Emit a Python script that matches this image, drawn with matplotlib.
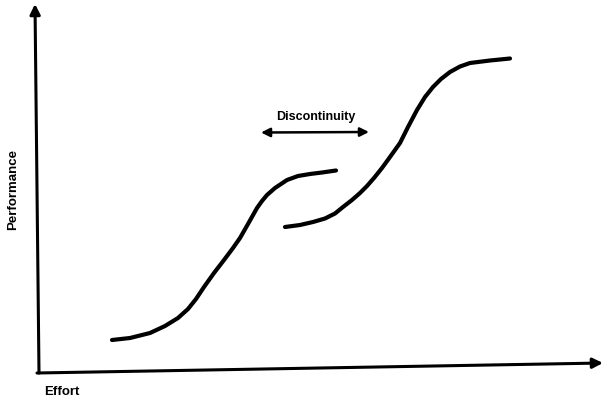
import matplotlib.pyplot as plt

# curve points (pixel space, y down)
curve1_x = [112, 130, 150, 165, 178, 188, 196, 204, 214, 224, 233, 240, 248, 257,
            262, 267, 275, 287, 298, 310, 322, 336]
curve1_y = [340, 338, 333, 326, 318, 309, 299, 287, 273, 260, 248, 238, 224, 208,
            201, 195, 188, 180, 176, 174, 172.5, 170.5]

curve2_x = [285, 300, 313, 325, 335, 343, 352, 360, 367, 374, 382, 390, 400, 408,
            417, 425, 433, 441, 450, 460, 470, 490, 510]
curve2_y = [227, 225, 222, 218.5, 213.5, 207, 200, 193, 186, 178, 168, 157, 143, 127,
            110, 97, 87, 79, 72, 66.5, 63, 60.5, 58.5]

x_label = 'Effort'
y_label = 'Performance'
gap_label = 'Discontinuity'

plt.rcParams['font.family'] = ['Liberation Sans', 'DejaVu Sans']

fig = plt.figure(figsize=(6.04, 4), dpi=100)
ax = fig.add_axes([0, 0, 1, 1])
ax.set_xlim(0, 604)
ax.set_ylim(400, 0)
ax.axis('off')

# axes with arrow heads
axis_arrow = dict(arrowstyle='-|>', color='black', lw=2.2,
                  mutation_scale=15, shrinkA=0, shrinkB=0)
ax.annotate('', xy=(35, 4), xytext=(39, 373), arrowprops=axis_arrow)
ax.annotate('', xy=(603, 363), xytext=(37, 373), arrowprops=axis_arrow)

# the two s-curves
ax.plot(curve1_x, curve1_y, color='black', lw=3, solid_capstyle='round',
        solid_joinstyle='round')
ax.plot(curve2_x, curve2_y, color='black', lw=3, solid_capstyle='round',
        solid_joinstyle='round')

# discontinuity marker
ax.annotate('', xy=(261, 132.5), xytext=(369, 132),
            arrowprops=dict(arrowstyle='<|-|>', color='black', lw=1.8,
                            mutation_scale=13, shrinkA=0, shrinkB=0))
ax.text(316, 117, gap_label, ha='center', va='center', fontsize=9,
        fontweight='bold')

ax.text(13, 190, y_label, ha='center', va='center', rotation=90,
        fontsize=9.5, fontweight='bold')
ax.text(62, 392, x_label, ha='center', va='center', fontsize=9.5,
        fontweight='bold')

fig.savefig('out.png', dpi=100, facecolor='white')
